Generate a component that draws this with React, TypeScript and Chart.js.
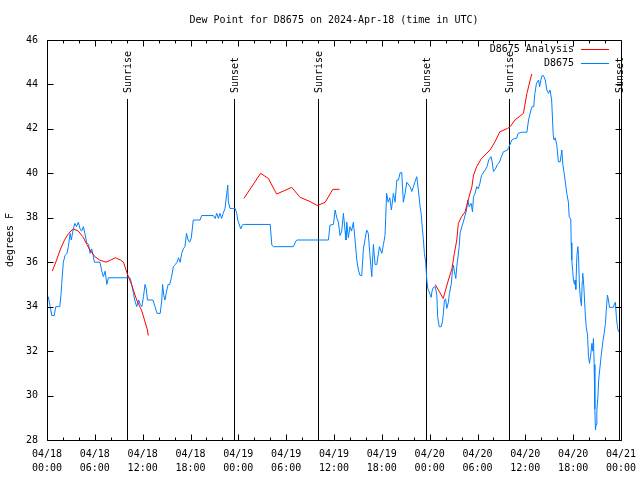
import React, { useEffect, useRef } from 'react';
import { Chart, registerables } from 'chart.js';

Chart.register(...registerables);

const TITLE = 'Dew Point for D8675 on 2024-Apr-18 (time in UTC)';
const Y_LABEL = 'degrees F';
const DAY_LABELS = ['04/18', '04/19', '04/20', '04/21'];
const SERIES_NAMES = ['D8675 Analysis', 'D8675'];
const SUN_EVENTS = ['Sunrise', 'Sunset', 'Sunrise', 'Sunset', 'Sunrise', 'Sunset'];
const SUN_HOURS = [10.05, 23.5, 34.03, 47.58, 58.0, 71.77];

// hours since 2024-04-18 00:00 UTC
const observedHours = [
  0.16, 0.4, 0.6, 0.9, 1.1, 1.6, 1.75, 1.84, 2.05, 2.26, 2.5, 2.68, 2.9, 3.05, 3.3, 3.5, 3.7, 3.93, 4.15, 4.35,
  4.56, 4.75, 4.97, 5.2, 5.4, 5.6, 5.8, 5.94, 6.65, 6.86, 7.07, 7.3, 7.5, 7.7, 10.4, 10.6, 10.85, 11.0, 11.25, 11.5,
  11.7, 11.9, 12.1, 12.3, 12.45, 12.6, 13.3, 13.55, 13.8, 14.2, 14.4, 14.5, 14.65, 14.8, 15.0, 15.2, 15.4, 15.6, 15.85, 16.1,
  16.3, 16.5, 16.7, 16.9, 17.1, 17.3, 17.5, 17.7, 17.9, 18.1, 18.35, 19.2, 19.4, 20.87, 21.08, 21.3, 21.5, 21.7, 21.9, 22.1,
  22.33, 22.55, 22.67, 22.75, 22.96, 23.37, 23.6, 23.8, 23.93, 24.3, 24.5, 24.6, 28.0, 28.2, 28.4, 30.9, 31.24, 31.4, 35.3, 35.5,
  35.93, 36.14, 36.35, 36.55, 36.76, 36.97, 37.18, 37.39, 37.5, 37.6, 37.8, 38.0, 38.2, 38.43, 38.64, 38.86, 39.06, 39.27, 39.48, 39.69,
  40.1, 40.3, 40.5, 40.74, 40.94, 41.15, 41.37, 41.7, 42.0, 42.2, 42.4, 42.6, 42.8, 43.0, 43.2, 43.45, 43.66, 43.88, 44.08, 44.3,
  44.5, 44.7, 44.92, 45.13, 45.55, 45.76, 46.17, 46.38, 46.6, 46.8, 46.93, 47.1, 47.2, 47.34, 47.5, 47.64, 47.77, 47.93, 48.05, 48.18,
  48.3, 48.47, 48.7, 48.9, 49.0, 49.2, 49.44, 49.6, 49.72, 49.85, 50.0, 50.15, 50.35, 50.48, 50.7, 50.85, 50.98, 51.1, 51.28, 51.4,
  51.53, 51.7, 51.82, 52.03, 52.23, 52.45, 52.6, 52.79, 52.95, 53.2, 53.37, 53.5, 53.7, 53.9, 54.1, 54.3, 54.5, 54.96, 55.2, 55.4,
  55.7, 55.85, 56.0, 56.25, 56.5, 56.75, 57.0, 57.25, 57.76, 58.0, 58.3, 58.7, 58.9, 59.1, 59.56, 60.2, 60.4, 60.7, 60.85, 61.05,
  61.2, 61.4, 61.65, 61.8, 61.95, 62.1, 62.27, 62.5, 62.7, 62.9, 63.1, 63.3, 63.5, 63.6, 63.75, 63.95, 64.15, 64.37, 64.58, 64.7,
  64.87, 65.2, 65.4, 65.5, 65.7, 65.75, 65.83, 65.95, 66.04, 66.16, 66.25, 66.33, 66.46, 66.59, 66.67, 66.79, 66.9, 67.04, 67.13, 67.2,
  67.34, 67.5, 67.63, 67.8, 67.92, 68.05, 68.2, 68.35, 68.47, 68.54, 68.63, 68.72, 68.8, 68.88, 68.97, 69.1, 69.2, 69.39, 69.5, 69.72,
  69.89, 70.05, 70.14, 70.3, 70.43, 70.55, 71.05, 71.18, 71.3, 71.43, 71.56, 71.68,
];
const observedDew = [
  34.45, 34.0, 33.6, 33.6, 34.0, 34.0, 34.5, 35.0, 36.0, 36.3, 36.4, 36.7, 37.3, 37.0, 37.5, 37.75, 37.6, 37.8, 37.5, 37.4,
  37.6, 37.3, 36.9, 36.8, 36.4, 36.6, 36.3, 36.0, 36.0, 35.6, 35.35, 35.6, 35.0, 35.3, 35.3, 35.05, 34.6, 34.3, 34.0, 34.3,
  34.1, 34.0, 34.45, 35.0, 34.8, 34.3, 34.3, 34.0, 33.7, 33.7, 34.3, 35.0, 34.5, 34.3, 34.7, 35.0, 35.0, 35.3, 35.8, 35.9,
  36.0, 36.2, 36.0, 36.4, 36.6, 36.7, 37.3, 37.0, 36.9, 37.1, 37.9, 37.9, 38.1, 38.1, 37.97, 38.2, 37.97, 38.2, 37.97, 38.2,
  38.42, 39.1, 39.47, 38.72, 38.42, 38.42, 38.42, 38.2, 37.9, 37.5, 37.67, 37.7, 37.7, 36.77, 36.7, 36.7, 36.97, 37.0, 37.0, 37.67,
  37.7, 38.35, 38.0, 37.8, 37.2, 37.4, 38.2, 37.4, 37.0, 37.8, 37.1, 37.6, 37.4, 37.8, 37.0, 36.1, 35.65, 35.4, 35.4, 36.6,
  37.45, 37.3, 36.35, 35.35, 36.8, 35.9, 35.9, 36.7, 36.4, 36.8, 37.2, 39.1, 38.7, 38.9, 38.35, 39.1, 38.7, 39.7, 39.7, 40.03,
  40.03, 38.7, 39.1, 39.6, 39.4, 39.18, 39.62, 39.85, 39.2, 38.5, 38.2, 37.45, 37.07, 36.4, 36.0, 35.2, 34.8, 34.67, 34.55, 34.42,
  34.7, 34.87, 34.9, 34.52, 33.55, 33.1, 33.1, 33.32, 33.7, 34.3, 34.35, 33.92, 34.2, 34.6, 35.0, 35.57, 35.87, 35.6, 35.27, 35.8,
  36.17, 36.7, 37.3, 37.6, 37.82, 38.12, 38.3, 38.8, 38.5, 38.65, 38.27, 38.95, 39.1, 39.4, 39.3, 39.55, 39.9, 40.15, 40.3, 40.6,
  40.75, 40.5, 40.08, 40.2, 40.4, 40.5, 40.75, 40.97, 41.05, 41.23, 41.5, 41.57, 41.57, 41.8, 41.85, 41.85, 42.4, 42.85, 43.0, 43.0,
  43.6, 44.05, 44.2, 43.9, 44.2, 44.4, 44.4, 44.2, 43.75, 43.6, 43.75, 43.3, 41.72, 41.5, 41.6, 41.27, 40.52, 40.52, 41.05, 40.4,
  40.0, 39.1, 38.7, 38.05, 37.94, 36.88, 36.1, 35.57, 35.2, 35.0, 35.2, 34.78, 36.25, 36.7, 36.3, 34.93, 34.37, 34.03, 35.13, 35.5,
  34.9, 33.77, 33.1, 32.73, 31.75, 31.45, 31.82, 32.35, 32.0, 32.57, 31.4, 29.4, 28.45, 28.7, 29.3, 29.95, 30.7, 31.37, 31.75, 32.42,
  32.8, 33.25, 33.77, 34.52, 34.3, 33.97, 33.97, 34.12, 34.2, 33.47, 33.1, 32.87,
];

// null entries mark gaps in the analysis series
const analysisHours = [
  0.67, 1.2, 1.7, 2.2, 2.7, 3.3, 3.93, 4.5, 5.0, 5.4, 6.0, 6.6, 7.4, 8.0, 8.6, 9.2, 9.6, 10.0, 10.6, 11.25,
  11.9, 12.6, 12.7, 18.0,
  24.7, 26.8, 27.77, 28.8, 29.65, 30.7, 31.74, 33.0, 33.9, 34.9, 35.85, 36.7, 42.0,
  48.7, 49.7, 50.35, 50.8, 51.1, 51.4, 51.6, 52.0, 52.45, 52.66, 52.95, 53.3, 53.5, 53.9, 54.5, 55.58, 56.2, 56.8,
  57.76, 58.1, 58.7, 59.76, 60.2, 60.8,
];
const analysisDew = [
  35.6, 36.1, 36.6, 37.0, 37.3, 37.5, 37.4, 37.15, 36.8, 36.55, 36.25, 36.1, 36.0, 36.1, 36.2, 36.1, 36.0, 35.55, 35.0, 34.3,
  33.8, 32.95, 32.7, null,
  38.87, 40.0, 39.77, 39.07, 39.2, 39.37, 38.92, 38.73, 38.55, 38.7, 39.28, 39.28, null,
  35.0, 34.37, 35.2, 35.72, 36.4, 37.0, 37.75, 38.05, 38.27, 38.57, 38.95, 39.4, 39.92, 40.3, 40.67, 41.05, 41.42, 41.87,
  42.02, 42.1, 42.4, 42.7, 43.6, 44.47,
];

const X_MIN = 0;
const X_MAX = 72;
const Y_MIN = 28;
const Y_MAX = 46;

const RED = 'rgb(255, 0, 0)';
const BLUE = 'rgb(0, 128, 255)';
const FAMILY = '"DejaVu Sans Mono", "Liberation Mono", monospace';
const FONT = `10px ${FAMILY}`;

const decorPlugin = {
  id: 'gnuplotDecor',
  beforeDatasetsDraw(chart: any) {
    const { ctx, chartArea: a, scales } = chart;
    const xs = scales.x;
    ctx.save();
    ctx.strokeStyle = '#000';
    ctx.fillStyle = '#000';
    ctx.lineWidth = 1;
    ctx.font = FONT;
    SUN_HOURS.forEach((h, i) => {
      const px = Math.round(xs.getPixelForValue(h)) + 0.5;
      ctx.beginPath();
      ctx.moveTo(px, 99);
      ctx.lineTo(px, a.bottom);
      ctx.stroke();
      ctx.save();
      ctx.translate(px + 1, 93);
      ctx.rotate(-Math.PI / 2);
      ctx.textAlign = 'left';
      ctx.textBaseline = 'middle';
      ctx.fillText(SUN_EVENTS[i], 0, 0);
      ctx.restore();
    });
    ctx.restore();
  },
  afterDatasetsDraw(chart: any) {
    const { ctx, chartArea: a, scales } = chart;
    const xs = scales.x;
    const ys = scales.y;
    ctx.save();
    ctx.strokeStyle = '#000';
    ctx.fillStyle = '#000';
    ctx.lineWidth = 1;
    const L = Math.round(a.left) + 0.5;
    const R = Math.round(a.right) + 0.5;
    const T = Math.round(a.top) + 0.5;
    const B = Math.round(a.bottom) + 0.5;
    ctx.beginPath();
    ctx.rect(L, T, R - L, B - T);
    ctx.stroke();
    // inward ticks
    ctx.beginPath();
    for (let h = X_MIN; h <= X_MAX; h += 2) {
      const px = Math.round(xs.getPixelForValue(h)) + 0.5;
      const len = h % 6 === 0 ? 6 : 3;
      ctx.moveTo(px, B);
      ctx.lineTo(px, B - len);
      ctx.moveTo(px, T);
      ctx.lineTo(px, T + len);
    }
    for (let v = Y_MIN; v <= Y_MAX; v += 2) {
      const py = Math.round(ys.getPixelForValue(v)) + 0.5;
      ctx.moveTo(L, py);
      ctx.lineTo(L + 6, py);
      ctx.moveTo(R, py);
      ctx.lineTo(R - 6, py);
    }
    ctx.stroke();

    ctx.font = FONT;
    // title
    ctx.textAlign = 'center';
    ctx.textBaseline = 'middle';
    ctx.fillText(TITLE, (a.left + a.right) / 2, 20);
    // y axis title
    ctx.save();
    ctx.translate(10, (a.top + a.bottom) / 2);
    ctx.rotate(-Math.PI / 2);
    ctx.fillText(Y_LABEL, 0, 0);
    ctx.restore();
    // legend
    const colors = [RED, BLUE];
    SERIES_NAMES.forEach((name, i) => {
      const ly = 49 + i * 14;
      ctx.fillStyle = '#000';
      ctx.textAlign = 'right';
      ctx.fillText(name, 574, ly);
      ctx.strokeStyle = colors[i];
      ctx.beginPath();
      ctx.moveTo(581, ly + 0.5);
      ctx.lineTo(609, ly + 0.5);
      ctx.stroke();
    });
    ctx.restore();
  },
};

function xLabel(value: number): string[] {
  const day = Math.floor(value / 24);
  const hour = value % 24;
  return [DAY_LABELS[day], `${String(hour).padStart(2, '0')}:00`];
}

export default function App() {
  const canvasRef = useRef<HTMLCanvasElement | null>(null);

  useEffect(() => {
    const canvas = canvasRef.current;
    if (!canvas) return;
    const analysisData = analysisHours.map((h, i) => ({ x: h, y: analysisDew[i] }));
    const observedData = observedHours.map((h, i) => ({ x: h, y: observedDew[i] }));
    const chart = new Chart(canvas, {
      type: 'line',
      data: {
        datasets: [
          {
            label: SERIES_NAMES[0],
            data: analysisData,
            borderColor: RED,
            borderWidth: 1,
            pointRadius: 0,
            tension: 0,
            spanGaps: false,
          },
          {
            label: SERIES_NAMES[1],
            data: observedData,
            borderColor: BLUE,
            borderWidth: 1,
            pointRadius: 0,
            tension: 0,
          },
        ],
      },
      options: {
        responsive: false,
        animation: false,
        layout: { padding: { top: 40, right: 19, left: 0, bottom: 0 } },
        plugins: {
          legend: { display: false },
          title: { display: false },
          tooltip: { enabled: false },
        },
        scales: {
          x: {
            type: 'linear',
            min: X_MIN,
            max: X_MAX,
            grid: { display: false, drawTicks: false },
            border: { display: false },
            ticks: {
              stepSize: 6,
              autoSkip: false,
              maxRotation: 0,
              minRotation: 0,
              padding: 7,
              color: '#000',
              font: { family: FAMILY, size: 10, lineHeight: 1.4 },
              callback: (v: any) => xLabel(Number(v)),
            },
            afterFit: (s: any) => {
              s.height = 40;
              s.paddingLeft = 0;
              s.paddingRight = 0;
            },
          },
          y: {
            type: 'linear',
            min: Y_MIN,
            max: Y_MAX,
            grid: { display: false, drawTicks: false },
            border: { display: false },
            ticks: {
              stepSize: 2,
              padding: 9,
              color: '#000',
              font: { family: FAMILY, size: 10 },
            },
            afterFit: (s: any) => {
              s.width = 47;
              s.paddingTop = 0;
              s.paddingBottom = 0;
            },
          },
        },
      },
      plugins: [decorPlugin],
    });
    return () => chart.destroy();
  }, []);

  return (
    <div style={{ position: 'absolute', left: 0, top: 0, width: 640, height: 480, background: '#fff' }}>
      <canvas ref={canvasRef} width={640} height={480} />
    </div>
  );
}
